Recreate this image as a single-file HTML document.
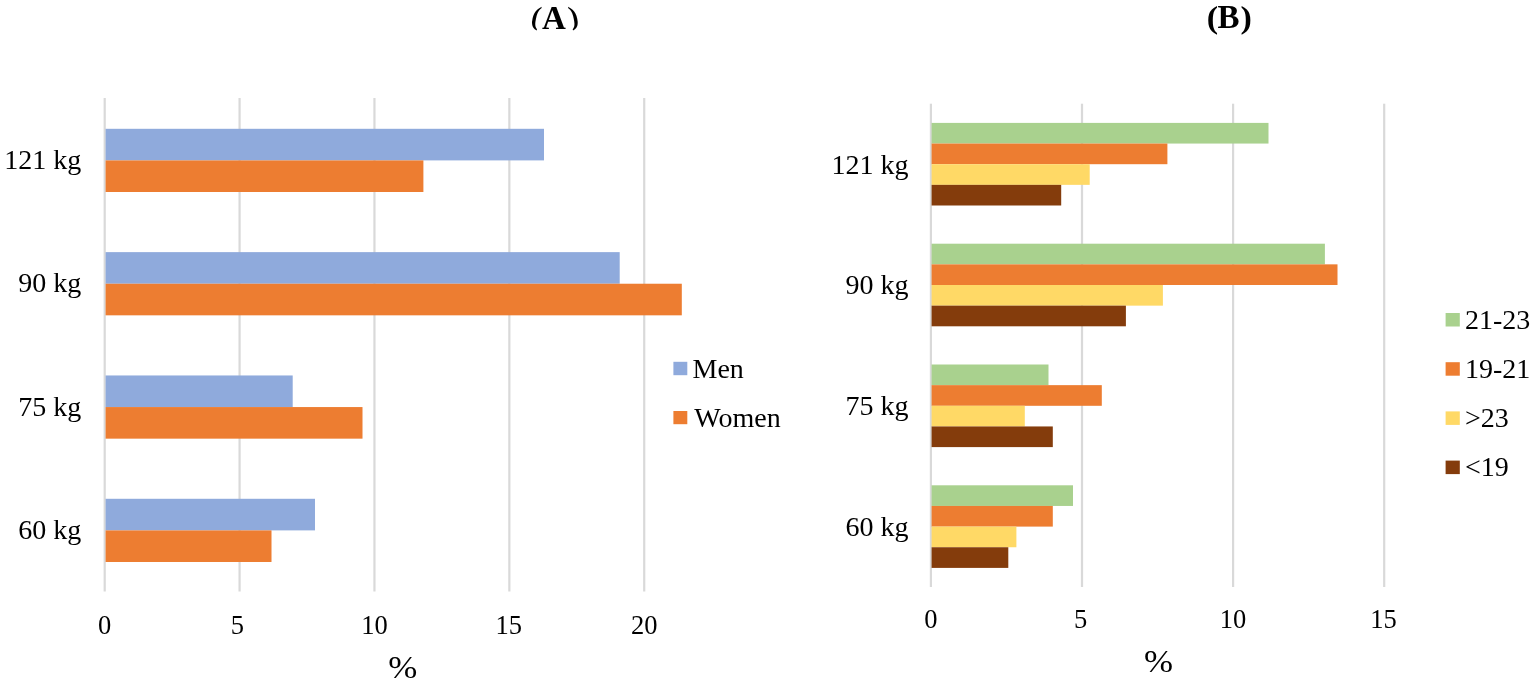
<!DOCTYPE html>
<html><head><meta charset="utf-8"><style>
html,body{margin:0;padding:0;background:#fff;}
svg{display:block;}
text{font-family:"Liberation Serif",serif;fill:#000;}
</style></head><body>
<svg width="1535" height="685" viewBox="0 0 1535 685">
<rect width="1535" height="685" fill="#fff"/>
<rect x="103.60" y="98.00" width="2.20" height="493.50" fill="#D9D9D9"/>
<rect x="238.48" y="98.00" width="2.20" height="493.50" fill="#D9D9D9"/>
<rect x="373.36" y="98.00" width="2.20" height="493.50" fill="#D9D9D9"/>
<rect x="508.24" y="98.00" width="2.20" height="493.50" fill="#D9D9D9"/>
<rect x="643.12" y="98.00" width="2.20" height="493.50" fill="#D9D9D9"/>
<rect x="105.60" y="128.80" width="438.40" height="31.60" fill="#8FAADC"/>
<rect x="105.60" y="160.40" width="317.80" height="31.60" fill="#ED7D31"/>
<rect x="105.60" y="252.13" width="514.10" height="31.60" fill="#8FAADC"/>
<rect x="105.60" y="283.73" width="576.20" height="31.60" fill="#ED7D31"/>
<rect x="105.60" y="375.46" width="187.10" height="31.60" fill="#8FAADC"/>
<rect x="105.60" y="407.06" width="256.90" height="31.60" fill="#ED7D31"/>
<rect x="105.60" y="498.79" width="209.40" height="31.60" fill="#8FAADC"/>
<rect x="105.60" y="530.39" width="165.90" height="31.60" fill="#ED7D31"/>
<text x="81.30" y="169.10" text-anchor="end" font-size="28" >121 kg</text>
<text x="81.30" y="292.43" text-anchor="end" font-size="28" >90 kg</text>
<text x="81.30" y="415.76" text-anchor="end" font-size="28" >75 kg</text>
<text x="81.30" y="539.09" text-anchor="end" font-size="28" >60 kg</text>
<text x="104.70" y="633.70" text-anchor="middle" font-size="26.5" >0</text>
<text x="237.38" y="633.70" text-anchor="middle" font-size="26.5" >5</text>
<text x="374.46" y="633.70" text-anchor="middle" font-size="26.5" >10</text>
<text x="508.64" y="633.70" text-anchor="middle" font-size="26.5" >15</text>
<text x="644.22" y="633.70" text-anchor="middle" font-size="26.5" >20</text>
<text transform="translate(388.17,677.60) scale(1.090,1.000)" x="0" y="0" text-anchor="start" font-size="32">%</text>
<rect x="673.40" y="361.80" width="13.90" height="13.40" fill="#8FAADC"/>
<rect x="673.40" y="411.00" width="13.90" height="13.20" fill="#ED7D31"/>
<text x="692.50" y="378.10" text-anchor="start" font-size="28" >Men</text>
<text x="694.30" y="426.80" text-anchor="start" font-size="28" >Women</text>
<text transform="translate(542.07,29.00) scale(1.000,1.000)" x="0" y="0" text-anchor="start" font-size="33" font-weight="bold">A</text>
<text transform="translate(530.00,25.10) scale(1.000,1.000) skewX(-12)" x="0" y="0" text-anchor="start" font-size="26.2" font-weight="bold">(</text>
<text transform="translate(570.90,25.10) scale(1.000,1.000) skewX(12)" x="0" y="0" text-anchor="start" font-size="26.2" font-weight="bold">)</text>
<rect x="929.80" y="103.70" width="2.20" height="483.30" fill="#D9D9D9"/>
<rect x="1080.90" y="103.70" width="2.20" height="483.30" fill="#D9D9D9"/>
<rect x="1232.00" y="103.70" width="2.20" height="483.30" fill="#D9D9D9"/>
<rect x="1383.10" y="103.70" width="2.20" height="483.30" fill="#D9D9D9"/>
<rect x="931.60" y="122.90" width="336.90" height="20.65" fill="#A9D18E"/>
<rect x="931.60" y="143.55" width="235.80" height="20.65" fill="#ED7D31"/>
<rect x="931.60" y="164.20" width="158.10" height="20.65" fill="#FFD966"/>
<rect x="931.60" y="184.85" width="129.60" height="20.65" fill="#843C0C"/>
<rect x="931.60" y="243.70" width="393.30" height="20.65" fill="#A9D18E"/>
<rect x="931.60" y="264.35" width="405.90" height="20.65" fill="#ED7D31"/>
<rect x="931.60" y="285.00" width="231.30" height="20.65" fill="#FFD966"/>
<rect x="931.60" y="305.65" width="194.30" height="20.65" fill="#843C0C"/>
<rect x="931.60" y="364.50" width="116.90" height="20.65" fill="#A9D18E"/>
<rect x="931.60" y="385.15" width="170.20" height="20.65" fill="#ED7D31"/>
<rect x="931.60" y="405.80" width="93.20" height="20.65" fill="#FFD966"/>
<rect x="931.60" y="426.45" width="121.20" height="20.65" fill="#843C0C"/>
<rect x="931.60" y="485.30" width="141.40" height="20.65" fill="#A9D18E"/>
<rect x="931.60" y="505.95" width="121.20" height="20.65" fill="#ED7D31"/>
<rect x="931.60" y="526.60" width="84.80" height="20.65" fill="#FFD966"/>
<rect x="931.60" y="547.25" width="76.70" height="20.65" fill="#843C0C"/>
<text x="908.50" y="173.60" text-anchor="end" font-size="28" >121 kg</text>
<text x="908.50" y="294.40" text-anchor="end" font-size="28" >90 kg</text>
<text x="908.50" y="415.20" text-anchor="end" font-size="28" >75 kg</text>
<text x="908.50" y="536.00" text-anchor="end" font-size="28" >60 kg</text>
<text x="930.90" y="627.50" text-anchor="middle" font-size="26.5" >0</text>
<text x="1080.60" y="627.50" text-anchor="middle" font-size="26.5" >5</text>
<text x="1233.10" y="627.50" text-anchor="middle" font-size="26.5" >10</text>
<text x="1383.50" y="627.50" text-anchor="middle" font-size="26.5" >15</text>
<text transform="translate(1144.07,671.80) scale(1.090,1.000)" x="0" y="0" text-anchor="start" font-size="32">%</text>
<rect x="1445.60" y="313.00" width="14.20" height="13.50" fill="#A9D18E"/>
<text x="1464.90" y="328.80" text-anchor="start" font-size="28" >21-23</text>
<rect x="1445.60" y="362.20" width="14.20" height="13.50" fill="#ED7D31"/>
<text x="1464.90" y="378.00" text-anchor="start" font-size="28" >19-21</text>
<rect x="1445.60" y="411.40" width="14.20" height="13.50" fill="#FFD966"/>
<text x="1464.90" y="427.20" text-anchor="start" font-size="28" >&gt;23</text>
<rect x="1445.60" y="460.60" width="14.20" height="13.50" fill="#843C0C"/>
<text x="1464.90" y="476.40" text-anchor="start" font-size="28" >&lt;19</text>
<text transform="translate(1217.54,27.50) scale(1.000,1.000)" x="0" y="0" text-anchor="start" font-size="33" font-weight="bold">B</text>
<text transform="translate(1206.70,28.00) scale(1.050,1.000)" x="0" y="0" text-anchor="start" font-size="32.5" font-weight="bold">(</text>
<text transform="translate(1240.44,28.00) scale(1.050,1.000)" x="0" y="0" text-anchor="start" font-size="32.5" font-weight="bold">)</text>
</svg>
</body></html>
